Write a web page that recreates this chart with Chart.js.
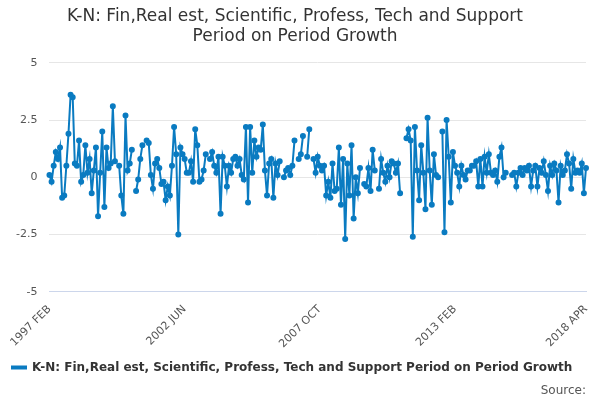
<!DOCTYPE html>
<html><head><meta charset="utf-8">
<script src="https://cdn.jsdelivr.net/npm/chart.js@4"></script>
<style>html,body{margin:0;padding:0;background:#fff}</style>
</head><body><canvas id="c" width="600" height="400" style="width:600px;height:400px"></canvas>
<script>
const seriesName = "K-N: Fin,Real est, Scientific, Profess, Tech and Support Period on Period Growth";
const startYear = 1997, startMonth = 1; // FEB
const monthNames = ["JAN","FEB","MAR","APR","MAY","JUN","JUL","AUG","SEP","OCT","NOV","DEC"];
const values = [
0.1,-0.2,0.5,1.1,0.8,1.3,-0.9,-0.8,0.5,1.9,
3.6,3.5,0.6,0.5,1.6,-0.2,0.1,1.4,0.2,0.8,
-0.7,0.3,1.3,-1.7,0.2,2.0,-1.3,1.3,0.4,0.6,
3.1,0.7,null,0.5,-0.8,-1.6,2.7,0.3,0.6,1.2,
null,-0.6,-0.1,0.8,1.4,null,1.6,1.5,0.1,-0.5,
0.6,0.8,0.4,-0.3,-0.2,-1.0,-0.4,-0.8,0.5,2.2,
1.0,-2.5,1.3,1.0,
0.8,0.2,0.2,0.7,-0.2,2.1,1.4,-0.2,-0.1,0.3,
1.0,null,0.8,1.1,0.5,0.2,0.9,-1.6,0.9,0.5,
-0.4,0.5,0.2,0.8,0.9,0.5,0.8,0.1,-0.1,2.2,
-1.1,2.2,0.2,1.6,0.9,1.3,1.2,2.3,0.3,-0.8,
0.6,0.8,-0.9,0.6,0.1,0.7,null,0.0,0.3,0.4,
0.1,0.5,1.6,null,0.8,1.0,1.8,null,0.9,2.1,
null,0.8,0.2,0.9,
0.5,0.3,0.5,-0.8,-0.2,-0.9,0.6,-0.6,-0.5,1.3,
-1.2,0.8,-2.7,0.6,-0.8,1.4,-1.8,0.0,-0.7,0.4,
null,-0.3,-0.4,0.4,-0.6,1.2,0.3,null,-0.5,0.8,
0.2,-0.2,0.5,0.0,0.7,0.6,0.2,0.6,-0.7,null,
null,1.7,2.1,1.6,-2.6,2.2,0.3,-1.0,1.4,0.2,
-1.4,2.6,0.3,-1.2,1.0,0.1,0.0,null,2.0,-2.4,
2.5,0.9,-1.1,1.1,
0.5,0.2,-0.4,0.5,0.1,-0.1,0.3,0.3,0.5,0.5,
0.7,-0.4,0.8,-0.4,0.9,0.2,1.0,0.2,0.1,0.3,
-0.2,0.9,1.3,0.0,0.2,null,null,0.1,0.2,-0.4,
0.2,0.4,0.1,0.4,0.3,0.5,-0.4,0.3,0.5,-0.4,
0.4,0.2,0.7,0.1,-0.6,0.5,0.1,0.6,0.3,-1.1,
0.5,0.1,0.3,1.0,0.6,-0.5,0.8,0.2,0.3,0.2,
0.6,-0.7,0.4
];
const labels = values.map((v,i)=>{const m=startMonth+i;return (startYear+Math.floor(m/12))+" "+monthNames[m%12];});
const labelledIdx = [0,64,128,192,254];
const yTicks = [-5,-2.5,0,2.5,5];
const color = "#0a7bc1";
new Chart(document.getElementById('c'),{
 type:'line',
 data:{labels,datasets:[{label:seriesName,data:values,borderColor:color,backgroundColor:color,borderWidth:2,pointRadius:2,pointHoverRadius:3,spanGaps:false,tension:0}]},
 options:{responsive:false,animation:false,maintainAspectRatio:false,devicePixelRatio:1,
  layout:{padding:{left:4,right:14,top:4,bottom:2}},
  plugins:{
   title:{display:true,text:["K-N: Fin,Real est, Scientific, Profess, Tech and Support","Period on Period Growth"],color:'#333',font:{family:'DejaVu Sans',size:17,weight:'normal'},padding:{top:2,bottom:16},lineHeight:1.2},
   legend:{position:'bottom',align:'start',labels:{color:'#333',font:{family:'DejaVu Sans',size:12,weight:'bold'},boxWidth:14,boxHeight:2,padding:8}},
   subtitle:{display:true,position:'bottom',align:'end',text:'Source:',color:'#555',font:{family:'DejaVu Sans',size:12},padding:{top:0,bottom:0}},
   tooltip:{enabled:false}
  },
  scales:{
   x:{grid:{display:false,drawTicks:true},border:{color:'#ccd6eb'},
      afterBuildTicks:(ax)=>{ax.ticks=[];for(let i=0;i<values.length;i+=16)ax.ticks.push({value:i});ax.ticks.push({value:254});},
      ticks:{autoSkip:false,maxRotation:45,minRotation:45,color:'#555',font:{family:'DejaVu Sans',size:11},
        callback:(v)=>labelledIdx.includes(v)?labels[v]:''}},
   y:{min:-5,max:5,afterBuildTicks:(ax)=>{ax.ticks=yTicks.map(v=>({value:v}));},
      grid:{color:'#e6e6e6',drawTicks:false},border:{display:false},
      ticks:{color:'#555',padding:12,font:{family:'DejaVu Sans',size:11},callback:(v)=>String(v)}}
  }
 }
});
</script></body></html>
